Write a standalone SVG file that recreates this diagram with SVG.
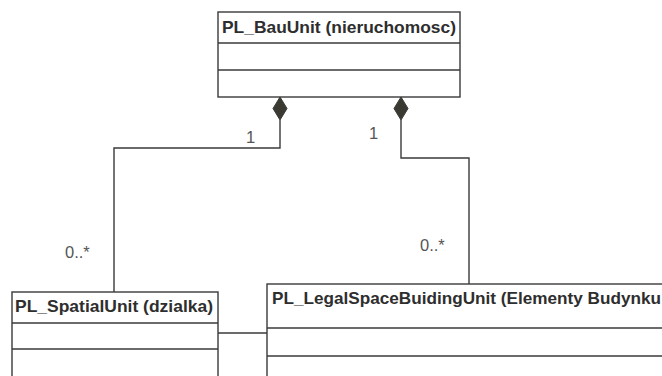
<svg xmlns="http://www.w3.org/2000/svg" width="662" height="376" viewBox="0 0 662 376">
<style>
.box{fill:#fff;stroke:#3a3a3a;stroke-width:1.4}
.div{stroke:#3a3a3a;stroke-width:1.4}
.title{font-family:"Liberation Sans",Arial,sans-serif;font-weight:bold;font-size:16.5px;fill:#2e2e2e}
.lbl{font-family:"Liberation Sans",Arial,sans-serif;font-size:16.5px;fill:#555}
.conn{fill:none;stroke:#3a3a3a;stroke-width:1.4}
.dia{fill:#3a3a33;stroke:#3a3a33;stroke-width:1}
</style>
<rect width="662" height="376" fill="#fff"/>
<g id="connectors">
<path class="conn" d="M280,120 V148 H114 V292"/>
<path class="conn" d="M401,120 V158 H469 V284"/>
<path class="conn" d="M218,333 H267"/>
<polygon class="dia" points="280,97 287,108.5 280,120 273,108.5"/>
<polygon class="dia" points="401,97 408,108.5 401,120 394,108.5"/>
<text class="lbl" x="246" y="143">1</text>
<text class="lbl" x="369" y="139">1</text>
<text class="lbl" x="65" y="258">0..*</text>
<text class="lbl" x="420" y="251">0..*</text>
</g>
<g id="PL_BauUnit">
<rect class="box" x="218" y="12" width="242" height="85"/>
<line class="div" x1="218" y1="43" x2="460" y2="43"/>
<line class="div" x1="218" y1="70" x2="460" y2="70"/>
<text class="title" x="222" y="33" textLength="234" lengthAdjust="spacingAndGlyphs">PL_BauUnit (nieruchomosc)</text>
</g>
<g id="PL_SpatialUnit">
<rect class="box" x="12" y="292" width="206" height="100"/>
<line class="div" x1="12" y1="323" x2="218" y2="323"/>
<line class="div" x1="12" y1="349" x2="218" y2="349"/>
<text class="title" x="15" y="312" textLength="198" lengthAdjust="spacingAndGlyphs">PL_SpatialUnit (dzialka)</text>
</g>
<g id="PL_LegalSpaceBuidingUnit">
<rect class="box" x="267" y="284" width="420" height="110"/>
<line class="div" x1="267" y1="328" x2="662" y2="328"/>
<line class="div" x1="267" y1="356" x2="662" y2="356"/>
<text class="title" x="272" y="304" textLength="389" lengthAdjust="spacingAndGlyphs">PL_LegalSpaceBuidingUnit (Elementy Budynku</text>
</g>
</svg>
